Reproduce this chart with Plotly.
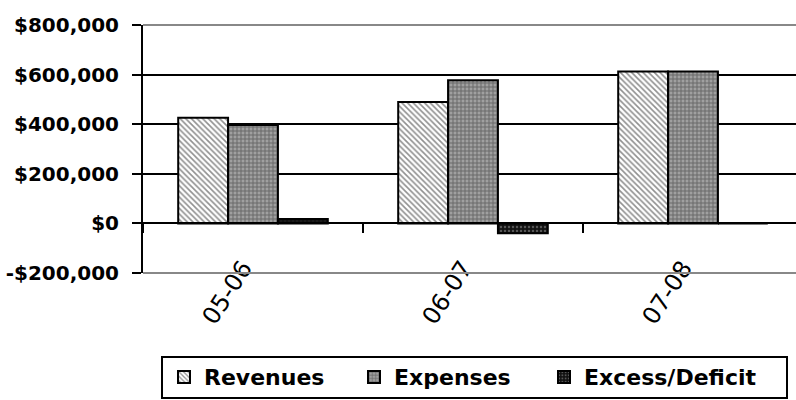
import plotly.graph_objects as go

categories = ["05-06", "06-07", "07-08"]
revenues = [426000, 490000, 613000]
expenses = [397000, 577000, 613000]
excess = [18000, -40000, 0]
y_tick_vals = [-200000, 0, 200000, 400000, 600000, 800000]
y_tick_text = ["-$200,000", "$0", "$200,000", "$400,000", "$600,000", "$800,000"]

fig = go.Figure()
fig.add_bar(name="Revenues", x=categories, y=revenues, legend="legend",
            marker=dict(color="white", line=dict(color="black", width=2),
                        pattern=dict(shape="\\", fgcolor="#222", bgcolor="white", size=4, solidity=0.4)))
fig.add_bar(name="Expenses", x=categories, y=expenses, legend="legend2",
            marker=dict(color="#999", line=dict(color="black", width=2),
                        pattern=dict(shape="+", fgcolor="#333", bgcolor="#a0a0a0", size=4, solidity=0.45)))
fig.add_bar(name="Excess/Deficit", x=categories, y=excess, legend="legend3",
            marker=dict(color="#111", line=dict(color="black", width=2),
                        pattern=dict(shape=".", fgcolor="#999", bgcolor="#111", size=4, solidity=0.3)))

legend_font = dict(family="DejaVu Sans", size=22, color="black", weight="bold")


def leg(px):
    return dict(orientation="h", x=(px - 143) / 653, y=-0.335, xanchor="left", yanchor="top",
                borderwidth=0, bgcolor="rgba(0,0,0,0)", font=legend_font)


fig.update_layout(
    width=796, height=400,
    margin=dict(l=143, r=0, t=25, b=127, autoexpand=False),
    paper_bgcolor="white", plot_bgcolor="white",
    barmode="group", bargap=0.32, bargroupgap=0,
    showlegend=True,
    legend=leg(164), legend2=leg(354), legend3=leg(544),
    xaxis=dict(type="category", range=[-0.5, -0.5 + 653 / 220], anchor="free", position=0.2,
               showline=True, linecolor="black", linewidth=2,
               ticks="outside", tickson="boundaries", ticklen=9, tickwidth=2, tickcolor="black",
               tickangle=-57, ticklabelstandoff=20, ticklabelshift=-10,
               tickfont=dict(family="DejaVu Sans", size=24, color="black"),
               showgrid=False, zeroline=False),
    yaxis=dict(range=[-200000, 800000], tickvals=y_tick_vals, ticktext=y_tick_text,
               showgrid=True, gridcolor="black", gridwidth=2, zeroline=False,
               showline=True, linecolor="black", linewidth=2,
               ticks="outside", ticklen=9, tickwidth=2, tickcolor="black",
               ticklabelstandoff=9,
               tickfont=dict(family="DejaVu Sans", size=20, color="black", weight="bold")),
    shapes=[
        dict(type="line", xref="paper", yref="paper", x0=0, x1=1, y0=1, y1=1,
             line=dict(color="#888", width=2), layer="above"),
        dict(type="line", xref="paper", yref="paper", x0=0, x1=1, y0=0, y1=0,
             line=dict(color="#888", width=2), layer="above"),
        dict(type="rect", xref="paper", yref="paper",
             x0=(162 - 143) / 653, x1=(787 - 143) / 653, y0=(273 - 398) / 248, y1=(273 - 357) / 248,
             line=dict(color="black", width=2), layer="above"),
    ],
)

fig.write_html("out.html")
